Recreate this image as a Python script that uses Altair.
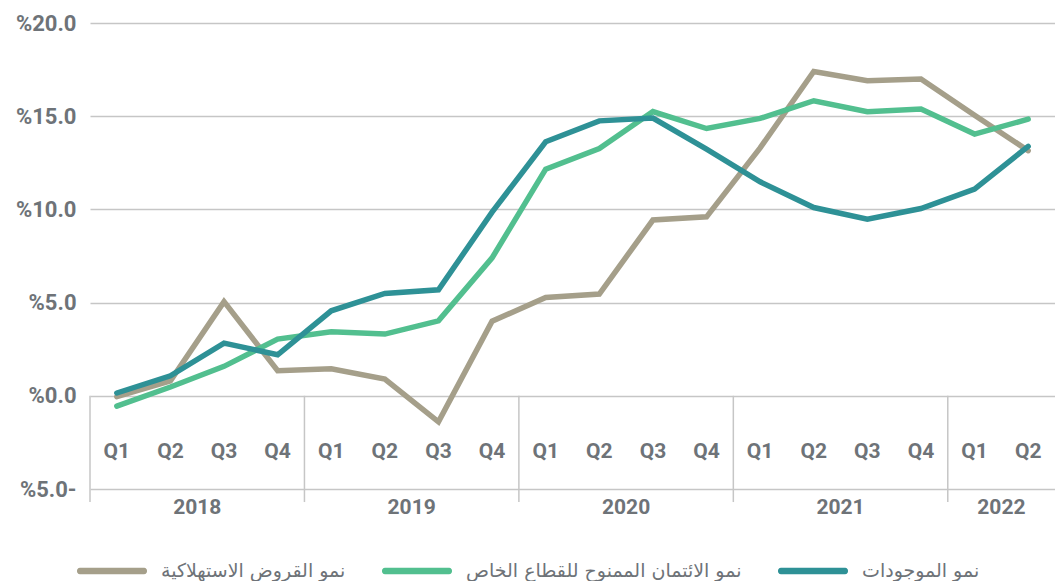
import math
import altair as alt
import pandas as pd

# ---- data ----
quarters = ["Q1", "Q2", "Q3", "Q4"] * 4 + ["Q1", "Q2"]
years = ["2018", "2019", "2020", "2021", "2022"]
year_centers = [1.5, 5.5, 9.5, 13.5, 16.5]
dividers = [-0.5, 3.5, 7.5, 11.5, 15.5]

consumer_loans = [-0.05, 0.8, 5.05, 1.35, 1.45, 0.9, -1.4, 4.0, 5.28, 5.46, 9.43, 9.6,
                  13.3, 17.4, 16.9, 17.0, 15.05, 13.15]
private_credit = [-0.55, 0.47, 1.58, 3.04, 3.43, 3.31, 4.02, 7.4, 12.16, 13.27, 15.25, 14.34,
                  14.88, 15.83, 15.24, 15.38, 14.04, 14.84]
assets = [0.15, 1.07, 2.83, 2.2, 4.56, 5.49, 5.69, 9.85, 13.63, 14.75, 14.9, 13.23,
          11.48, 10.1, 9.48, 10.05, 11.09, 13.38]

series_names = ["نمو القروض الاستهلاكية", "نمو الائتمان الممنوح للقطاع الخاص", "نمو الموجودات"]
series_colors = ["#a59f8a", "#52bf8f", "#2e9196"]

GRAY = "#6e7378"
GRID = "#c6c6c6"

rows = []
for name, vals in zip(series_names, [consumer_loans, private_credit, assets]):
    for i, v in enumerate(vals):
        rows.append({"idx": i, "value": v, "series": name})
df = pd.DataFrame(rows)

qdf = pd.DataFrame({"idx": list(range(len(quarters))), "q": quarters})
ydf = pd.DataFrame({"pos": year_centers, "year": years})
ddf = pd.DataFrame({"pos": dividers})

xscale = alt.Scale(domain=[-0.5, 17.5], nice=False, zero=False)
yscale = alt.Scale(domain=[-5, 20], nice=False, zero=False)

# rounded legend swatch (stadium outline in the unit square, stroked thick)
x0, r = 0.907, 0.043
pts = []
for a in range(-90, 91, 30):
    t = math.radians(a)
    pts.append((x0 + r * math.cos(t), r * math.sin(t)))
for a in range(90, 271, 30):
    t = math.radians(a)
    pts.append((-x0 + r * math.cos(t), r * math.sin(t)))
swatch = "M" + "L".join(f"{px:.4f},{py:.4f}" for px, py in pts) + "Z"

color = alt.Color(
    "series:N",
    scale=alt.Scale(domain=series_names, range=series_colors),
    legend=alt.Legend(
        orient="none", legendX=-15, legendY=511, direction="horizontal", title=None,
        symbolType=swatch, symbolSize=4900, symbolStrokeWidth=3.6,
        labelFont="DejaVu Sans", labelFontSize=19, labelColor=GRAY,
        labelOffset=12, columnPadding=30, labelLimit=500,
    ),
)

yaxis = alt.Axis(
    values=[-5, 0, 5, 10, 15, 20],
    labelExpr="'%' + format(abs(datum.value), '.1f') + (datum.value < 0 ? '-' : '')",
    grid=True, gridColor=GRID, gridWidth=1.5, domain=False, ticks=False,
    labelFont="Roboto", labelFontSize=22, labelFontWeight="bold", labelColor=GRAY,
    labelPadding=14, title=None,
)

base = alt.Chart(df)
line_layers = []
for name in series_names:
    line_layers.append(
        base.transform_filter(alt.datum.series == name)
        .mark_line(strokeWidth=5.5, strokeCap="round", strokeJoin="miter")
        .encode(
            x=alt.X("idx:Q", scale=xscale, axis=None),
            y=alt.Y("value:Q", scale=yscale, axis=yaxis),
            color=color,
        )
    )

rules = alt.Chart(ddf).mark_rule(color=GRID, strokeWidth=1.5).encode(
    x=alt.X("pos:Q", scale=xscale, axis=None),
    y=alt.datum(0),
    y2=alt.datum(-5.7),
)

qtext = alt.Chart(qdf).mark_text(
    font="Roboto", fontSize=21, fontWeight="bold", color=GRAY, baseline="middle", align="center"
).encode(
    x=alt.X("idx:Q", scale=xscale, axis=None),
    y=alt.datum(-3),
    text="q:N",
)

ytext = alt.Chart(ydf).mark_text(
    font="Roboto", fontSize=21, fontWeight="bold", color=GRAY, baseline="middle", align="center"
).encode(
    x=alt.X("pos:Q", scale=xscale, axis=None),
    y=alt.datum(-6.0),
    text="year:N",
)

chart = alt.layer(rules, *line_layers, qtext, ytext).properties(
    width=965, height=466,
    autosize=alt.AutoSizeParams(type="none"),
    padding={"left": 82, "top": 15, "right": 0, "bottom": 92},
).configure_view(stroke=None)

chart.save("out.html", embed_options={"renderer": "svg", "actions": False})
